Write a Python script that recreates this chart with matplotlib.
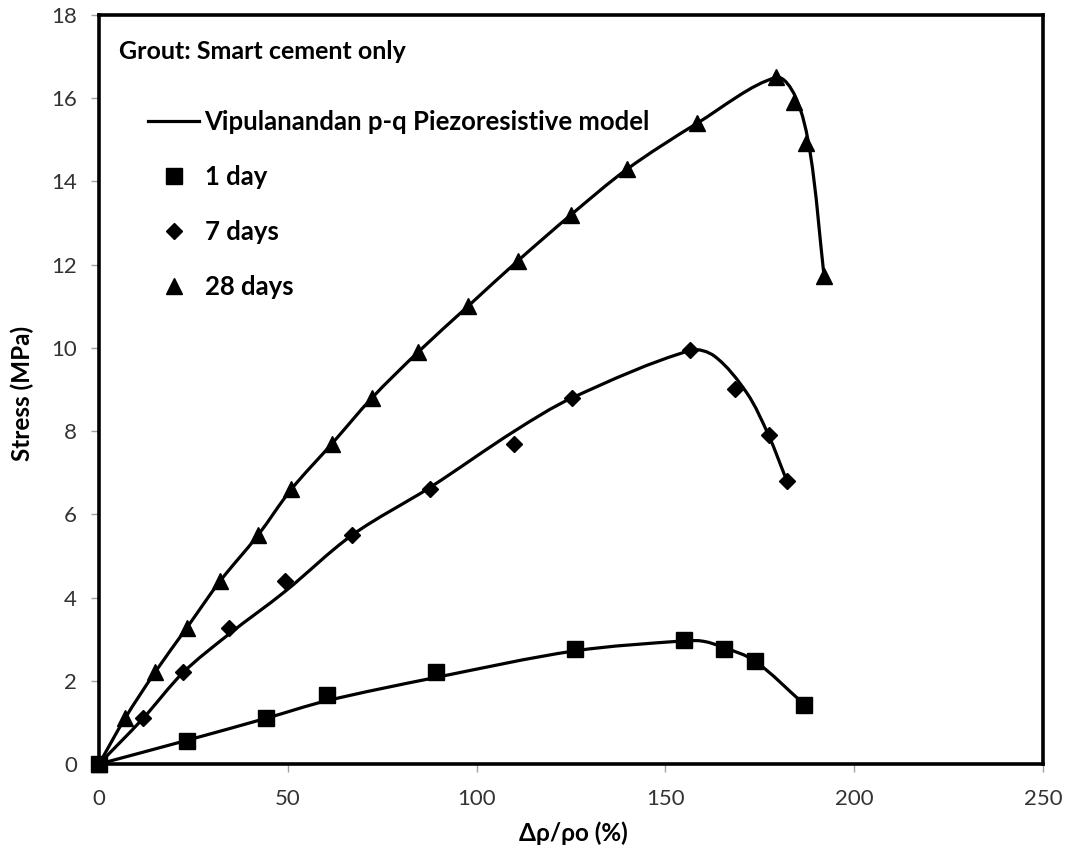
import matplotlib
matplotlib.use("Agg")
import matplotlib.pyplot as plt
import numpy as np
from matplotlib.path import Path
from matplotlib.patches import PathPatch
from matplotlib.lines import Line2D

plt.rcParams["font.family"] = ["Lato", "DejaVu Sans"]

# --- measured data (strain change %, stress MPa) ---
day1_x = [0, 23.3, 44.3, 60.3, 89.2, 126.1, 155.0, 165.5, 173.6, 186.8]
day1_y = [0, 0.55, 1.10, 1.66, 2.20, 2.76, 2.98, 2.77, 2.48, 1.43]

day7_x = [0, 11.7, 22.3, 34.4, 49.3, 67.0, 87.7, 110.0, 125.3, 156.6, 168.5, 177.4, 182.2]
day7_y = [0, 1.10, 2.20, 3.28, 4.40, 5.50, 6.60, 7.70, 8.80, 9.95, 9.02, 7.90, 6.80]

day28_x = [0, 6.9, 14.8, 23.3, 32.1, 42.1, 50.9, 61.7, 72.3, 84.5, 97.7, 111.0,
           125.0, 139.9, 158.4, 179.3, 184.0, 187.3, 192.0]
day28_y = [0, 1.10, 2.20, 3.28, 4.40, 5.50, 6.60, 7.70, 8.80, 9.90, 11.00, 12.10,
           13.20, 14.30, 15.40, 16.50, 15.90, 14.92, 11.72]

# --- model curves ---
model1_x = [0, 23.3, 44.3, 60.3, 89.2, 126.1, 155.0, 160.0, 165.5, 173.6, 186.8]
model1_y = [0, 0.57, 1.10, 1.52, 2.08, 2.72, 2.96, 2.95, 2.80, 2.48, 1.43]

model7_x = [0, 11.7, 22.3, 34.4, 49.3, 67.0, 87.7, 110.0, 125.3, 156.6,
            163.0, 171.6, 177.3, 182.2]
model7_y = [0, 1.10, 2.20, 3.12, 4.15, 5.50, 6.65, 8.00, 8.80, 9.94,
            9.80, 8.91, 7.90, 6.79]

model28_x = [0, 6.9, 14.8, 23.3, 32.1, 42.1, 50.9, 61.7, 72.3, 84.5, 97.7, 111.0,
             125.0, 139.9, 158.4, 179.3, 184.4, 188.3, 192.0]
model28_y = [0, 1.10, 2.20, 3.28, 4.40, 5.50, 6.60, 7.70, 8.80, 9.90, 11.00, 12.10,
             13.20, 14.30, 15.40, 16.50, 16.04, 14.70, 11.72]

x_ticks = [0, 50, 100, 150, 200, 250]
y_ticks = [0, 2, 4, 6, 8, 10, 12, 14, 16, 18]

legend_labels = ["Vipulanandan p-q Piezoresistive model", "1 day", "7 days", "28 days"]

# pixels per data unit, used so the smoothing works in screen proportions
SX = 944 / 250.0
SY = 749 / 18.0


def smooth_path(xs, ys):
    """Excel-like smoothed line: chord-length Catmull-Rom as cubic Beziers."""
    pts = np.column_stack([xs, ys]).astype(float)
    scr = pts * [SX, SY]
    n = len(pts)
    d = np.hypot(*np.diff(scr, axis=0).T)

    def tangent(i):
        if i == 0:
            return (pts[1] - pts[0]) / d[0]
        if i == n - 1:
            return (pts[-1] - pts[-2]) / d[-1]
        return (pts[i + 1] - pts[i - 1]) / (d[i - 1] + d[i])

    verts = [pts[0]]
    codes = [Path.MOVETO]
    for i in range(n - 1):
        c1 = pts[i] + tangent(i) * d[i] / 3.0
        c2 = pts[i + 1] - tangent(i + 1) * d[i] / 3.0
        verts += [c1, c2, pts[i + 1]]
        codes += [Path.CURVE4] * 3
    return Path(verts, codes)


fig = plt.figure(figsize=(10.68, 8.49), dpi=100)
ax = fig.add_axes([0.0927, 0.1001, 0.884, 0.8822])

for mx, my in [(model1_x, model1_y), (model7_x, model7_y), (model28_x, model28_y)]:
    ax.add_patch(PathPatch(smooth_path(mx, my), facecolor="none",
                           edgecolor="black", linewidth=2.3, zorder=2))

ax.plot(day1_x, day1_y, linestyle="none", marker="s", markersize=11,
        color="black", zorder=3, clip_on=False)
ax.plot(day7_x, day7_y, linestyle="none", marker="D", markersize=8,
        color="black", zorder=3, clip_on=False)
ax.plot(day28_x, day28_y, linestyle="none", marker="^", markersize=11,
        color="black", zorder=3, clip_on=False)

ax.set_xlim(0, 250)
ax.set_ylim(0, 18)
ax.set_xticks(x_ticks)
ax.set_yticks(y_ticks)
ax.tick_params(direction="out", length=6, width=1, color="#a0a0a0",
               labelsize=16, labelcolor="#333333")
ax.tick_params(axis="x", pad=12)
ax.tick_params(axis="y", pad=10)

for side in ["top", "right", "left", "bottom"]:
    ax.spines[side].set_linewidth(2.6)
    ax.spines[side].set_color("black")

ax.set_xlabel("Δρ/ρo (%)", fontsize=17.5, fontweight="bold")
ax.set_ylabel("Stress (MPa)", fontsize=17.5, fontweight="bold")
ax.xaxis.set_label_coords(0.502, -0.076)
ax.yaxis.set_label_coords(-0.069, 0.495)

ax.text(0.021, 0.951, "Grout: Smart cement only", transform=ax.transAxes,
        fontsize=18, fontweight="bold", va="center", ha="left")

handles = [
    Line2D([], [], color="black", linewidth=2.3),
    Line2D([], [], linestyle="none", marker="s", markersize=11, color="black"),
    Line2D([], [], linestyle="none", marker="D", markersize=8, color="black"),
    Line2D([], [], linestyle="none", marker="^", markersize=11, color="black"),
]
leg = ax.legend(handles, legend_labels, loc="upper left",
                bbox_to_anchor=(0.052, 0.873), frameon=False,
                prop={"size": 18.5, "weight": "bold"},
                labelspacing=1.2, handlelength=2.0, handletextpad=0.2,
                borderaxespad=0, borderpad=0)

fig.savefig("out.png", dpi=100)
